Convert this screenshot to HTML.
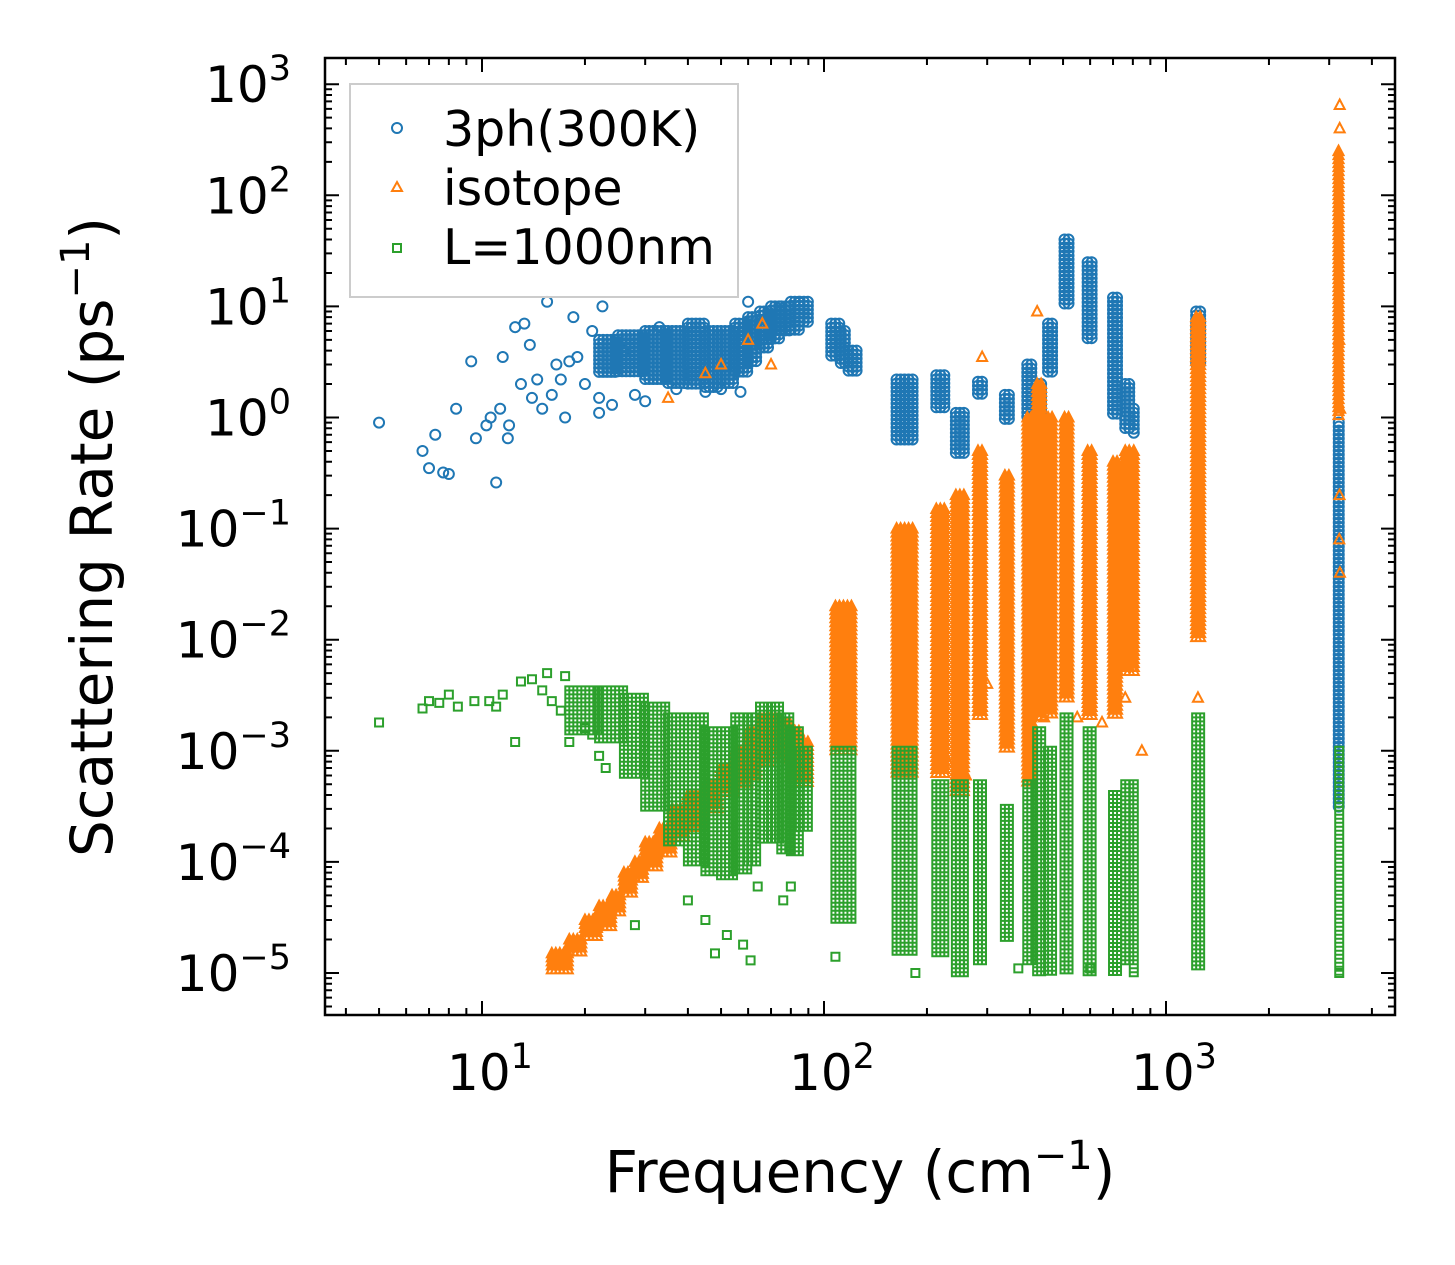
<!DOCTYPE html>
<html><head><meta charset="utf-8">
<style>
html,body{margin:0;padding:0;background:#fff;}
svg{display:block;font-family:"DejaVu Sans","Liberation Sans",sans-serif;}
</style></head>
<body>
<svg id="chart" width="1455" height="1265" viewBox="0 0 1455 1265" xmlns="http://www.w3.org/2000/svg">
<rect x="0" y="0" width="1455" height="1265" fill="#fff"/>
<g id="marks"></g>
<g id="axes"></g>
<rect x="325" y="58" width="1070" height="957" fill="none" stroke="#000" stroke-width="2.5"/>
<text x="860" y="1192" font-size="58" text-anchor="middle">Frequency (cm<tspan font-size="40" dy="-23">−1</tspan><tspan dy="23">)</tspan></text>
<text transform="translate(112,537) rotate(-90)" font-size="58" text-anchor="middle">Scattering Rate (ps<tspan font-size="40" dy="-23">−1</tspan><tspan dy="23">)</tspan></text>
<g>
<rect x="350" y="84" width="388" height="213" fill="#fff" fill-opacity="0.8" stroke="#ccc" stroke-width="2"/>
<circle cx="397" cy="128" r="5" fill="none" stroke="#1f77b4" stroke-width="2"/>
<text x="443" y="146" font-size="49">3ph(300K)</text>
<path d="M397,182 L402,191 L392,191 Z" fill="none" stroke="#ff7f0e" stroke-width="2"/>
<text x="443" y="205" font-size="49">isotope</text>
<rect x="393" y="244" width="8" height="8" fill="none" stroke="#2ca02c" stroke-width="2"/>
<text x="443" y="264" font-size="49">L=1000nm</text>
</g>
</svg>
<script>
// ---- data ----
const xTickExps = [1, 2, 3];
const yTickExps = [3, 2, 1, 0, -1, -2, -3, -4, -5];
// blue: 3ph(300K) sparse points [freq, rate]
const bluePts = [[5,0.9],[6.7,0.5],[7,0.35],[7.3,0.7],[7.7,0.32],[8,0.31],[8.4,1.2],[9.3,3.2],[9.6,0.65],[10.3,0.85],[10.6,1.0],[11,0.26],[11.3,1.2],[11.5,3.5],[11.9,0.65],[12,0.85],[12.5,6.5],[13,2],[13.3,7],[13.8,4.5],[14,1.5],[14.5,2.2],[15,1.2],[15.5,11],[16,1.6],[16.5,3],[17,2.2],[17.5,1],[18,3.2],[19,3.5],[20,2],[22,1.1],[22,1.5],[18.5,8],[21,6],[24,1.3],[26,4],[28,1.6],[30,1.4],[33,6.5],[37,1.8],[45,1.7],[50,1.8],[57,1.7],[22.5,10],[60,11]];
// blue dense bands [f0, f1, lo, hi]
const blueBand0 = [22,25,30,35,40,45,50,55,60,65,70,75,80,85,105,112,118,163,213,243,282,338,393,420,452,505,590,700,760,805,1225,3200];
const blueBand1 = [25,30,35,40,45,50,55,60,65,70,75,80,85,91,112,118,125,182,226,262,292,352,408,442,472,532,622,732,782,822,1262,3250];
const blueLo = [2.5,2.5,2.2,2.0,2.0,1.8,2.0,2.5,3.0,4.0,5.0,6.0,6.0,7.0,3.5,3.0,2.5,0.6,1.2,0.45,1.6,0.9,1.0,0.9,2.5,10,5,1,0.8,0.7,3,0.0003];
const blueHi = [5,5.5,6,6,7,6,6,7,8,9,10,10,11,11,7,6,4,2.2,2.4,1.1,2.1,1.6,3,2,7,40,25,12,2,1.2,9,0.9];
// orange: isotope sparse points
const orangePts = [[66,7],[60,5],[50,3],[45,2.5],[35,1.5],[70,3],[300,0.004],[440,0.002],[550,0.002],[650,0.0018],[760,0.003],[1240,0.003],[850,0.001],[3220,650],[3220,400],[3210,5],[3230,1.2],[3215,0.2],[3225,0.04],[3210,0.08],[420,9],[290,3.5],[230,0.0008],[260,0.0006]];
// orange ramp bands
const orangeBand0 = [16,18,20,22,24,26,28,30,33,36,40,45,50,55,60,65,70,75,80,85,108,163,213,243,282,338,393,420,452,505,590,700,760,805,1225,3195];
const orangeBand1 = [18,20,22,24,26,28,30,33,36,40,45,50,55,60,65,70,75,80,85,91,122,182,226,262,292,352,410,442,472,532,622,732,782,822,1262,3250];
const orangeLo = [1e-5,1.5e-5,2e-5,2.5e-5,3.5e-5,5e-5,7e-5,9e-5,1.2e-4,1.6e-4,2e-4,3e-4,4e-4,5e-4,6e-4,8e-4,1e-3,8e-4,6e-4,5e-4,1e-3,6e-4,6e-4,4e-4,2e-3,1e-3,5e-4,2e-3,2e-3,3e-3,2e-3,2e-3,5e-3,5e-3,1e-2,1];
const orangeHi = [1.5e-5,2e-5,3e-5,4e-5,5e-5,8e-5,1e-4,1.5e-4,2e-4,3e-4,4e-4,5e-4,7e-4,1e-3,1.5e-3,2e-3,2e-3,1.8e-3,1.5e-3,1.2e-3,2e-2,0.1,0.15,0.2,0.5,0.3,1,2,1,1,0.5,0.4,0.5,0.5,8,250];
// green: boundary sparse points
const greenPts = [[5,0.0018],[6.7,0.0024],[7,0.0028],[7.5,0.0027],[8,0.0032],[8.5,0.0025],[9.5,0.0028],[10.5,0.0028],[11,0.0025],[11.5,0.0032],[12.5,0.0012],[13,0.0042],[14,0.0044],[15,0.0035],[15.5,0.005],[16,0.0028],[17,0.0023],[17.5,0.0047],[18,0.0012],[19,0.0035],[20,0.0016],[21,0.0014],[22,0.0009],[23,0.0007],[28,2.7e-5],[40,4.5e-5],[45,3e-5],[48,1.5e-5],[52,2.2e-5],[58,1.8e-5],[61,1.3e-5],[64,6e-5],[76,4.5e-5],[80,6e-5],[108,1.4e-5],[600,1.1e-5],[370,1.1e-5],[185,1e-5],[250,1.2e-5],[3210,1e-5]];
const greenBand0 = [18,22,26,30,35,40,45,50,55,60,65,70,75,80,85,108,163,213,243,282,338,393,420,452,505,590,700,760,805,1225,3210];
const greenBand1 = [22,26,30,35,40,45,50,55,60,65,70,75,80,85,91,122,182,226,262,292,352,410,442,472,532,622,732,782,822,1262,3240];
const greenLo = [1.5e-3,1.2e-3,6e-4,3e-4,1.5e-4,1e-4,8e-5,7e-5,8e-5,1e-4,1.5e-4,1.5e-4,1.2e-4,1.2e-4,2e-4,3e-5,1.5e-5,1.5e-5,1e-5,1.2e-5,2e-5,1.2e-5,1e-5,1e-5,1e-5,1e-5,1e-5,1.2e-5,1e-5,1.1e-5,1e-5];
const greenHi = [3.5e-3,3.5e-3,3e-3,2.5e-3,2e-3,2e-3,1.5e-3,1.5e-3,2e-3,2e-3,2.5e-3,2.5e-3,2e-3,1.5e-3,1e-3,1e-3,1e-3,5e-4,5e-4,5e-4,3e-4,5e-4,1.5e-3,1e-3,2e-3,1.5e-3,4e-4,5e-4,5e-4,2e-3,1e-3];

// ---- scales ----
function X(f){ return 482 + 342*(Math.log10(f) - 1); }
function Y(v){ return 973 - 111.1*(Math.log10(v) + 5); }
const NS = 'http://www.w3.org/2000/svg';
const marks = document.getElementById('marks');
const axes = document.getElementById('axes');

function markerD(kind, x, y){
  if(kind==='c') return `M${x-5},${y}a5,5 0 1,0 10,0a5,5 0 1,0 -10,0`;
  if(kind==='t') return `M${x},${y-5.5}L${x+5},${y+4}L${x-5},${y+4}Z`;
  return `M${x-4},${y-4}h8v8h-8Z`;
}
function series(name, kind, color, pts, b0, b1, lo, hi){
  let d = '';
  for(let i=0;i<b0.length;i++){
    const xa=X(b0[i]), xb=X(b1[i]), ya=Y(hi[i]), yb=Y(lo[i]);
    for(let x=xa; x<=xb+0.01; x+=4){
      for(let y=ya; y<=yb+0.01; y+=4){ d += markerD(kind, x, y); }
    }
  }
  for(const p of pts){ d += markerD(kind, X(p[0]), Y(p[1])); }
  const path = document.createElementNS(NS,'path');
  path.setAttribute('d', d);
  path.setAttribute('fill','none');
  path.setAttribute('stroke', color);
  path.setAttribute('stroke-width','2');
  
  
  marks.appendChild(path);
}
series('series-3ph', 'c', '#1f77b4', bluePts, blueBand0, blueBand1, blueLo, blueHi);
series('series-isotope', 't', '#ff7f0e', orangePts, orangeBand0, orangeBand1, orangeLo, orangeHi);
series('series-boundary', 's', '#2ca02c', greenPts, greenBand0, greenBand1, greenLo, greenHi);

// ---- ticks ----
let td = '';
const L=325,R=1395,T=58,B=1015;
for(let e=0;e<=3;e++){
  for(let m=1;m<10;m++){
    const x = X(m*Math.pow(10,e));
    if(x<L||x>R) continue;
    const len = m===1?14:7;
    td += `M${x},${B}v${-len}M${x},${T}v${len}`;
  }
}
for(let e=-6;e<=3;e++){
  for(let m=1;m<10;m++){
    const y = Y(m*Math.pow(10,e));
    if(y<T||y>B) continue;
    const len = m===1?14:7;
    td += `M${L},${y}h${len}M${R},${y}h${-len}`;
  }
}
const tp = document.createElementNS(NS,'path');
tp.setAttribute('d', td);
tp.setAttribute('stroke','#000');
tp.setAttribute('stroke-width','2');


axes.appendChild(tp);

function sup(t, x, y, anchor, e){
  t.setAttribute('x', x); t.setAttribute('y', y);
  t.setAttribute('font-size','50');
  t.setAttribute('text-anchor', anchor);
  t.innerHTML = `10<tspan font-size="35" dy="-22">${e<0?'−'+(-e):e}</tspan>`;
}
for(const e of xTickExps){
  const t = document.createElementNS(NS,'text');
  sup(t, X(Math.pow(10,e))+8, 1090, 'middle', e);
  
  
  axes.appendChild(t);
}
for(const e of yTickExps){
  const t = document.createElementNS(NS,'text');
  sup(t, 291, Y(Math.pow(10,e))+18, 'end', e);
  
  
  axes.appendChild(t);
}
</script>
</body></html>
